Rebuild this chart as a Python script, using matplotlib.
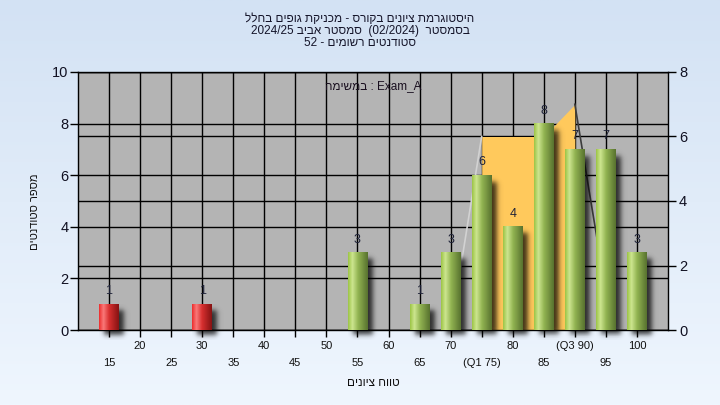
import re
import numpy as np
import matplotlib
matplotlib.use("Agg")
import matplotlib.pyplot as plt
from matplotlib.colors import LinearSegmentedColormap, to_rgb

plt.rcParams['font.family'] = ['Liberation Sans', 'DejaVu Sans']

# ---------------- data ----------------
title_lines = ["היסטוגרמת ציונים בקורס - מכניקת גופים בחלל",
               "בסמסטר  (02/2024)  סמסטר אביב 2024/25",
               "סטודנטים רשומים - 52"]
subtitle_he = "במשימה"
subtitle_task = "Exam_A"
x_label = "טווח ציונים"
y_label = "מספר סטודנטים"

bar_x = [15, 30, 55, 65, 70, 75, 80, 85, 90, 95, 100]
bar_counts = [1, 1, 3, 1, 3, 6, 4, 8, 7, 7, 3]
bar_kind = ['fail', 'fail', 'pass', 'pass', 'pass', 'pass', 'pass', 'pass', 'pass', 'pass', 'pass']

tick_values = [15, 20, 25, 30, 35, 40, 45, 50, 55, 60, 65, 70, 75, 80, 85, 90, 95, 100]
tick_texts = ["15", "20", "25", "30", "35", "40", "45", "50", "55", "60", "65", "70",
              "(Q1 75)", "80", "85", "(Q3 90)", "95", "100"]

left_ticks = [0, 2, 4, 6, 8, 10]
right_ticks = [0, 2, 4, 6, 8]

# quartile area (right-axis units)
area_x = [70, 75, 85, 90, 96]
area_y = [0, 6, 6, 7, 0]
q1, q3 = 75, 90


def vis(s):
    """Visual (left-to-right) ordering for an RTL paragraph."""
    r = s[::-1]
    r = re.sub(r'[A-Za-z0-9/._]+', lambda m: m.group(0)[::-1], r)
    return r.translate(str.maketrans('()', ')('))


# ---------------- figure ----------------
W, H = 720, 405
fig = plt.figure(figsize=(7.2, 4.05), dpi=100)

bg = fig.add_axes([0, 0, 1, 1], zorder=-10)
top_c = np.array(to_rgb('#d3e2f4'))
bot_c = np.array(to_rgb('#eff6fe'))
t = np.linspace(0, 1, 256)[:, None]
grad = top_c * (1 - t) + bot_c * t
bg.imshow(grad[:, None, :].repeat(2, axis=1), aspect='auto', extent=[0, 1, 0, 1], origin='upper')
bg.set_axis_off()

L, R, T, B = 78, 668, 72, 330
ax = fig.add_axes([L / W, 1 - B / H, (R - L) / W, (B - T) / H])
ax.set_facecolor('#b4b4b4')
xmin, xmax = 10, 105
ymin, ymax = 0, 10
rmax = 8
scale = ymax / rmax

pxu_x = (R - L) / (xmax - xmin)
pxu_y = (B - T) / (ymax - ymin)

# grid
for v in tick_values:
    ax.axvline(v, color='black', lw=1.0, zorder=1)
for v in left_ticks:
    ax.axhline(v, color='black', lw=1.0, zorder=1)
for v in right_ticks:
    ax.axhline(v * scale, color='black', lw=1.0, zorder=1)

# quartile area
ax_ = np.array(area_x, float)
ay_ = np.array(area_y, float) * scale
xs = np.linspace(q1, q3, 200)
ax.fill_between(xs, 0, np.interp(xs, ax_, ay_), color='#ffc95c', lw=0, zorder=2)
ax.plot(ax_[:2], ay_[:2], color='#d2d2d2', lw=1.2, zorder=2.1)
ax.plot(ax_[3:], ay_[3:], color='#3c3c3c', lw=1.2, zorder=2.1)

# bars
bw = 3.2
cm_pass = LinearSegmentedColormap.from_list('p', [(0, '#9cc446'), (0.22, '#cde690'), (0.5, '#93b552'), (1, '#58722f')])
cm_fail = LinearSegmentedColormap.from_list('f', [(0, '#ec2e2e'), (0.22, '#fa7a7a'), (0.5, '#d83030'), (1, '#861313')])
gx = np.linspace(0, 1, 64)[None, :]

for x, c, k in zip(bar_x, bar_counts, bar_kind):
    x0, x1 = x - bw / 2, x + bw / 2
    # shadow
    ext = [x0, x1 + 12 / pxu_x, -10 / pxu_y, c]
    nx, ny = 60, 80
    xx = np.linspace(ext[0], ext[1], nx)[None, :]
    yy = np.linspace(ext[2], ext[3], ny)[:, None]
    sx = 3.0 / pxu_x
    sy = 3.0 / pxu_y
    a0, a1 = x0 + 5 / pxu_x, x1 + 5 / pxu_x
    b0, b1 = -5 / pxu_y, c - 6 / pxu_y
    fxx = 0.5 * (np.tanh((xx - a0) / sx) - np.tanh((xx - a1) / sx))
    fyy = 0.5 * (np.tanh((yy - b0) / sy) - np.tanh((yy - b1) / sy))
    rgba = np.zeros((ny, nx, 4))
    rgba[..., 3] = 0.75 * fxx * fyy
    ax.imshow(rgba, extent=ext, origin='lower', aspect='auto', interpolation='bilinear',
              zorder=3, clip_on=False)
    cmap = cm_pass if k == 'pass' else cm_fail
    ax.imshow(cmap(gx), extent=[x0, x1, 0, c], origin='lower', aspect='auto',
              interpolation='bilinear', zorder=4)
    ax.text(x, c + 7 / pxu_y, str(c), ha='center', va='bottom', fontsize=9,
            color='#1e2238', zorder=5)

ax.set_xlim(xmin, xmax)
ax.set_ylim(ymin, ymax)

ax.set_xticks(tick_values)
labels = [("\n" + s) if i % 2 == 0 else s for i, s in enumerate(tick_texts)]
ax.set_xticklabels(labels, fontsize=8, color='#111111')
for lbl in ax.get_xticklabels():
    lbl.set_linespacing(1.9)
ax.tick_params(axis='x', length=5, width=1, color='black', pad=3)
ax.set_yticks(left_ticks)
ax.set_yticklabels([str(v) for v in left_ticks], fontsize=10.5, color='#111122')
ax.tick_params(axis='y', length=6, width=1, color='black', pad=1)
for s in ax.spines.values():
    s.set_color('black')
    s.set_linewidth(1.0)

ax2 = ax.twinx()
ax2.set_ylim(0, rmax)
ax2.set_yticks(right_ticks)
ax2.set_yticklabels([str(v) for v in right_ticks], fontsize=10.5, color='#111122')
ax2.tick_params(axis='y', length=6, width=1, color='black', pad=2)
for s in ax2.spines.values():
    s.set_visible(False)

ax.text(0.5, 1 - 14 / (B - T), vis(subtitle_he) + " : " + subtitle_task, transform=ax.transAxes,
        ha='center', va='center', fontsize=8.5, color='#1a1020', zorder=6)

ax.set_xlabel(vis(x_label), fontsize=8.5, color='#111111', labelpad=6)
ax.set_ylabel(vis(y_label), fontsize=8, color='#111111')
ax.yaxis.set_label_coords((40 - L) / (R - L), (B - 212) / (B - T))

for i, line in enumerate(title_lines):
    fig.text(0.5, 1 - (19 + 12 * i) / H, vis(line), ha='center', va='center',
             fontsize=8.5, color='#15152a')

fig.savefig('out.png', dpi=100)
